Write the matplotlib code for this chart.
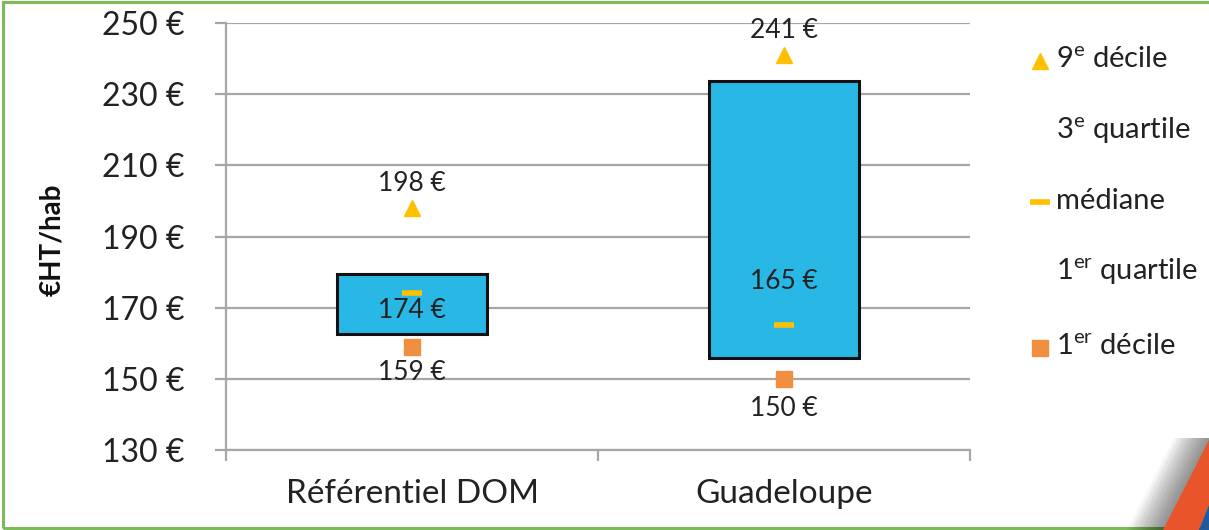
import matplotlib
matplotlib.use("Agg")
import matplotlib.pyplot as plt
from matplotlib.patches import Polygon, Rectangle

plt.rcParams['font.family'] = ['Lato', 'DejaVu Sans']
plt.rcParams['mathtext.fontset'] = 'custom'
plt.rcParams['mathtext.rm'] = 'Lato'

# ---- data ----
categories = ["Référentiel DOM", "Guadeloupe"]
decile9 = [198, 241]
quartile3 = [179.5, 233.7]
median = [174, 165]
quartile1 = [162.6, 155.9]
decile1 = [159, 150]
yticks = [130, 150, 170, 190, 210, 230, 250]
ylabel = "€HT/hab"
legend_labels = [r"9$^{\mathrm{e}}$ décile", r"3$^{\mathrm{e}}$ quartile", "médiane",
                 r"1$^{\mathrm{er}}$ quartile", r"1$^{\mathrm{er}}$ décile"]

W, H = 1209, 530
fig = plt.figure(figsize=(W / 100, H / 100), dpi=100)
ax = fig.add_axes([226 / W, 1 - 450 / H, (970 - 226) / W, (450 - 23) / H])

x = list(range(len(categories)))
grid_c = '#a6a6a6'
box_c = '#29b7e5'
gold = '#ffc000'
orange = '#ef8f3f'
txt_c = '#222222'

ax.set_xlim(-0.5, len(categories) - 0.5)
ax.set_ylim(130, 250)
ax.set_yticks(yticks)
ax.set_yticklabels([f"{v} €" for v in yticks], fontsize=23)
ax.yaxis.grid(True, color=grid_c, lw=1.6, zorder=0)
ax.set_axisbelow(True)
for s in ['top', 'right']:
    ax.spines[s].set_visible(False)
for s in ['left', 'bottom']:
    ax.spines[s].set_color(grid_c)
    ax.spines[s].set_linewidth(1.6)
ax.tick_params(axis='y', length=8, width=1.6, color=grid_c, pad=22, labelcolor=txt_c)
ax.set_xticks([-0.5, 0.5, 1.5], minor=False)
ax.set_xticklabels(['', '', ''])
ax.tick_params(axis='x', length=8, width=1.6, color=grid_c)
ax.set_xticks(x, minor=True)
ax.set_xticklabels(categories, minor=True, fontsize=24, color=txt_c)
ax.tick_params(axis='x', which='minor', length=0, pad=21)

# boxes (1st to 3rd quartile)
heights = [q3 - q1 for q3, q1 in zip(quartile3, quartile1)]
ax.bar(x, heights, bottom=quartile1, width=0.405, color=box_c, edgecolor='#111111',
       linewidth=2.2, zorder=3)

# markers
ax.plot(x, decile9, ls='none', marker='^', ms=12, color=gold, zorder=4)
ax.plot(x, median, ls='none', marker='_', ms=15, mew=4, color=gold, zorder=4)
ax.plot(x, decile1, ls='none', marker='s', ms=12, color=orange, zorder=4)

# data labels
lab_kw = dict(ha='center', va='center', fontsize=19, color=txt_c, zorder=5)
for xi, v in zip(x, decile9):
    ax.annotate(f"{v} €", (xi, v), xytext=(0, 25), textcoords='offset pixels', **lab_kw)
ax.annotate(f"{median[0]} €", (x[0], median[0]), xytext=(0, -17), textcoords='offset pixels', **lab_kw)
ax.annotate(f"{median[1]} €", (x[1], median[1]), xytext=(0, 44), textcoords='offset pixels', **lab_kw)
ax.annotate(f"{decile1[0]} €", (x[0], decile1[0]), xytext=(0, -26), textcoords='offset pixels', **lab_kw)
ax.annotate(f"{decile1[1]} €", (x[1], decile1[1]), xytext=(0, -30), textcoords='offset pixels', **lab_kw)

# y label
fig.text(52 / W, 1 - 240 / H, ylabel, rotation=90, ha='center', va='center',
         fontsize=20, fontweight='bold', color='#111111')

# legend (manual placement)
leg_y = [60, 131, 201, 272, 347]
leg_markers = [('^', gold, 12, None), (None, None, 0, None), ('_', gold, 15, 4),
               (None, None, 0, None), ('s', orange, 12, None)]
for yy, lab, (m, c, ms, mew) in zip(leg_y, legend_labels, leg_markers):
    yf = 1 - yy / H
    if m is not None:
        kw = dict(marker=m, ms=ms, color=c, ls='none', transform=fig.transFigure)
        if mew:
            kw['mew'] = mew
        fig.add_artist(plt.Line2D([1040 / W], [yf - 1 / H], **kw))
    fig.text(1056 / W, yf, lab, ha='left', va='center', fontsize=21, color=txt_c)

# decoration: green frame and corner band
fig.add_artist(Rectangle((3 / W, 2 / H), 1.2, 1 - 4 / H, transform=fig.transFigure,
                         fill=False, edgecolor='#7cbb58', lw=2.2, clip_on=False))
n = 14
for i in range(n):
    off = (n - i) * 2.5
    fig.add_artist(Polygon([((1209 - off) / W, 1 - 438 / H), (1.01, 1 - 438 / H),
                            (1.01, 0), ((1162 - off) / W, 0)],
                           closed=True, transform=fig.transFigure, facecolor='#000000',
                           alpha=0.035, edgecolor='none'))
fig.add_artist(Polygon([(1209 / W, 1 - 440 / H), (1209 / W, 1 - 505 / H), (1199 / W, 0),
                        (1163 / W, 0)], closed=True, transform=fig.transFigure,
                       facecolor='#e8552a', edgecolor='none'))
fig.add_artist(Polygon([(1209 / W, 1 - 505 / H), (1209 / W, 0), (1199 / W, 0)], closed=True,
                       transform=fig.transFigure, facecolor='#1f5a9e', edgecolor='none'))

fig.savefig("out.png", dpi=100, facecolor='white')
